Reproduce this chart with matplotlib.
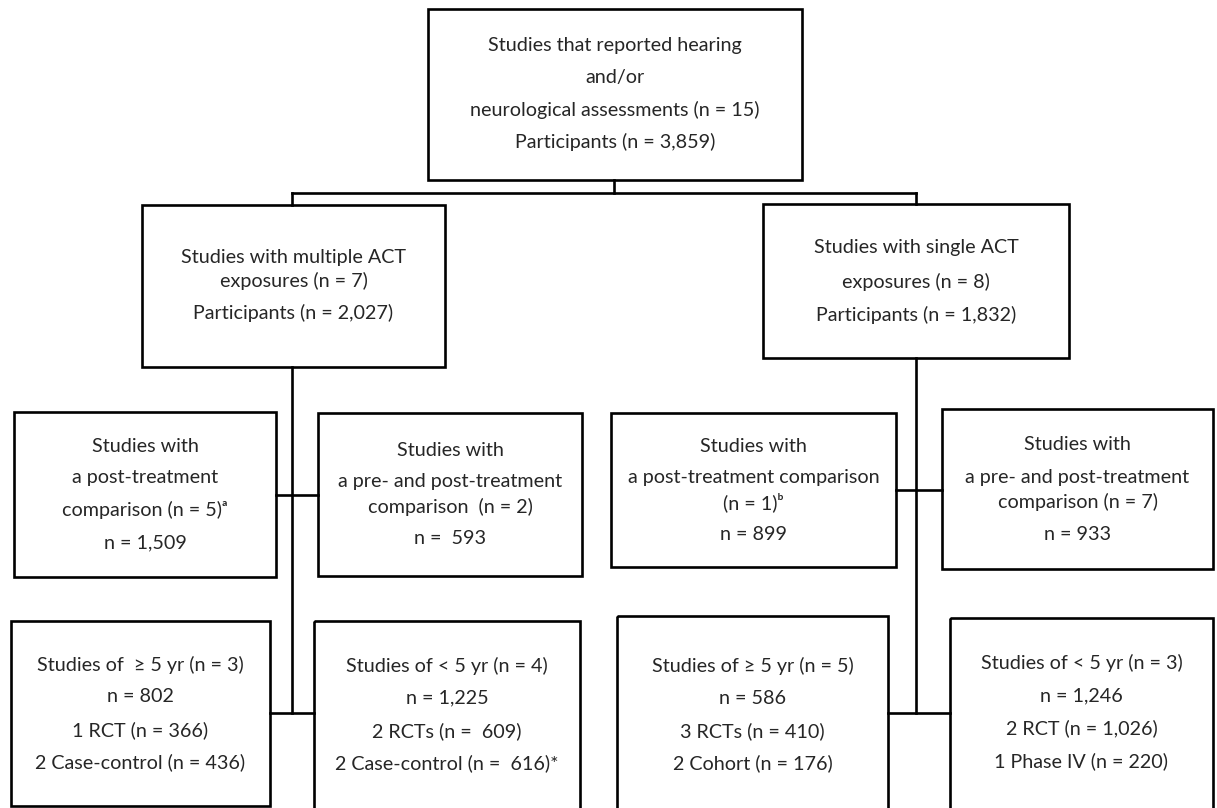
import matplotlib.pyplot as plt
from matplotlib.patches import Rectangle

# Box texts, one list of lines per box
top_lines = ["Studies that reported hearing", "and/or",
             "neurological assessments (n = 15)", "Participants (n = 3,859)"]
multi_lines = ["Studies with multiple ACT", "exposures (n = 7)",
               "Participants (n = 2,027)"]
single_lines = ["Studies with single ACT", "exposures (n = 8)",
                "Participants (n = 1,832)"]
comparison_lines = [
    ["Studies with", "a post-treatment", "comparison (n = 5)ᵃ", "n = 1,509"],
    ["Studies with", "a pre- and post-treatment", "comparison  (n = 2)", "n =  593"],
    ["Studies with", "a post-treatment comparison", "(n = 1)ᵇ", "n = 899"],
    ["Studies with", "a pre- and post-treatment", "comparison (n = 7)", "n = 933"],
]
duration_lines = [
    ["Studies of  ≥ 5 yr (n = 3)", "n = 802", "1 RCT (n = 366)",
     "2 Case-control (n = 436)"],
    ["Studies of < 5 yr (n = 4)", "n = 1,225", "2 RCTs (n =  609)",
     "2 Case-control (n =  616)*"],
    ["Studies of ≥ 5 yr (n = 5)", "n = 586", "3 RCTs (n = 410)",
     "2 Cohort (n = 176)"],
    ["Studies of < 5 yr (n = 3)", "n = 1,246", "2 RCT (n = 1,026)",
     "1 Phase IV (n = 220)"],
]

# Layout in pixels: box (left, top, right, bottom) and text line centres
top_box = (428, 9, 802, 180)
top_text_y = [45, 77, 110, 142]
multi_box = (142, 205, 445, 367)
multi_text_y = [257, 281, 313]
single_box = (763, 204, 1069, 358)
single_text_y = [248, 282, 315]
comparison_boxes = [(14, 412, 276, 577), (318, 413, 582, 576),
                    (611, 413, 896, 567), (942, 409, 1213, 569)]
comparison_text_y = [[447, 478, 510, 543], [450, 482, 507, 538],
                     [446, 478, 502, 535], [445, 477, 502, 534]]
duration_boxes = [(11, 621, 270, 806), (314, 621, 580, 810),
                  (617, 616, 888, 810), (950, 618, 1213, 810)]
duration_text_y = [[665, 697, 730, 762], [666, 698, 731, 763],
                   [666, 698, 731, 763], [663, 696, 728, 761]]

LW = 1.9
FONT = ['Lato', 'DejaVu Sans']
TXT = '#262626'
FS = 14.2


def box(ax, b, lines, ys):
    x0, y0, x1, y1 = b
    ax.add_patch(Rectangle((x0, y0), x1 - x0, y1 - y0, fill=False,
                           edgecolor='black', lw=LW))
    for s, y in zip(lines, ys):
        ax.text((x0 + x1) / 2, y, s, ha='center', va='center',
                fontsize=FS, family=FONT, color=TXT)


def line(ax, xs, ys):
    ax.plot(xs, ys, color='black', lw=LW, solid_capstyle='projecting')


def main():
    fig = plt.figure(figsize=(12.17, 8.08), dpi=100)
    ax = fig.add_axes([0, 0, 1, 1])
    ax.set_xlim(0, 1217)
    ax.set_ylim(808, 0)
    ax.axis('off')

    box(ax, top_box, top_lines, top_text_y)
    box(ax, multi_box, multi_lines, multi_text_y)
    box(ax, single_box, single_lines, single_text_y)
    for b, lab, ys in zip(comparison_boxes, comparison_lines, comparison_text_y):
        box(ax, b, lab, ys)
    for b, lab, ys in zip(duration_boxes, duration_lines, duration_text_y):
        box(ax, b, lab, ys)

    # connectors from the top box
    xc_top = (top_box[0] + top_box[2]) / 2 - 1
    xl = 292
    xr = 916
    line(ax, [xc_top, xc_top], [top_box[3], 193])
    line(ax, [xl, xr], [193, 193])
    line(ax, [xl, xl], [193, multi_box[1]])
    line(ax, [xr, xr], [193, single_box[1]])

    # left trunk
    line(ax, [xl, xl], [multi_box[3], 713])
    line(ax, [comparison_boxes[0][2], comparison_boxes[1][0]], [495, 495])
    line(ax, [duration_boxes[0][2], duration_boxes[1][0]], [713, 713])

    # right trunk
    line(ax, [xr, xr], [single_box[3], 713])
    line(ax, [comparison_boxes[2][2], comparison_boxes[3][0]], [490, 490])
    line(ax, [duration_boxes[2][2], duration_boxes[3][0]], [713, 713])

    fig.savefig('out.png', dpi=100, facecolor='white')


if __name__ == "__main__":
    main()
